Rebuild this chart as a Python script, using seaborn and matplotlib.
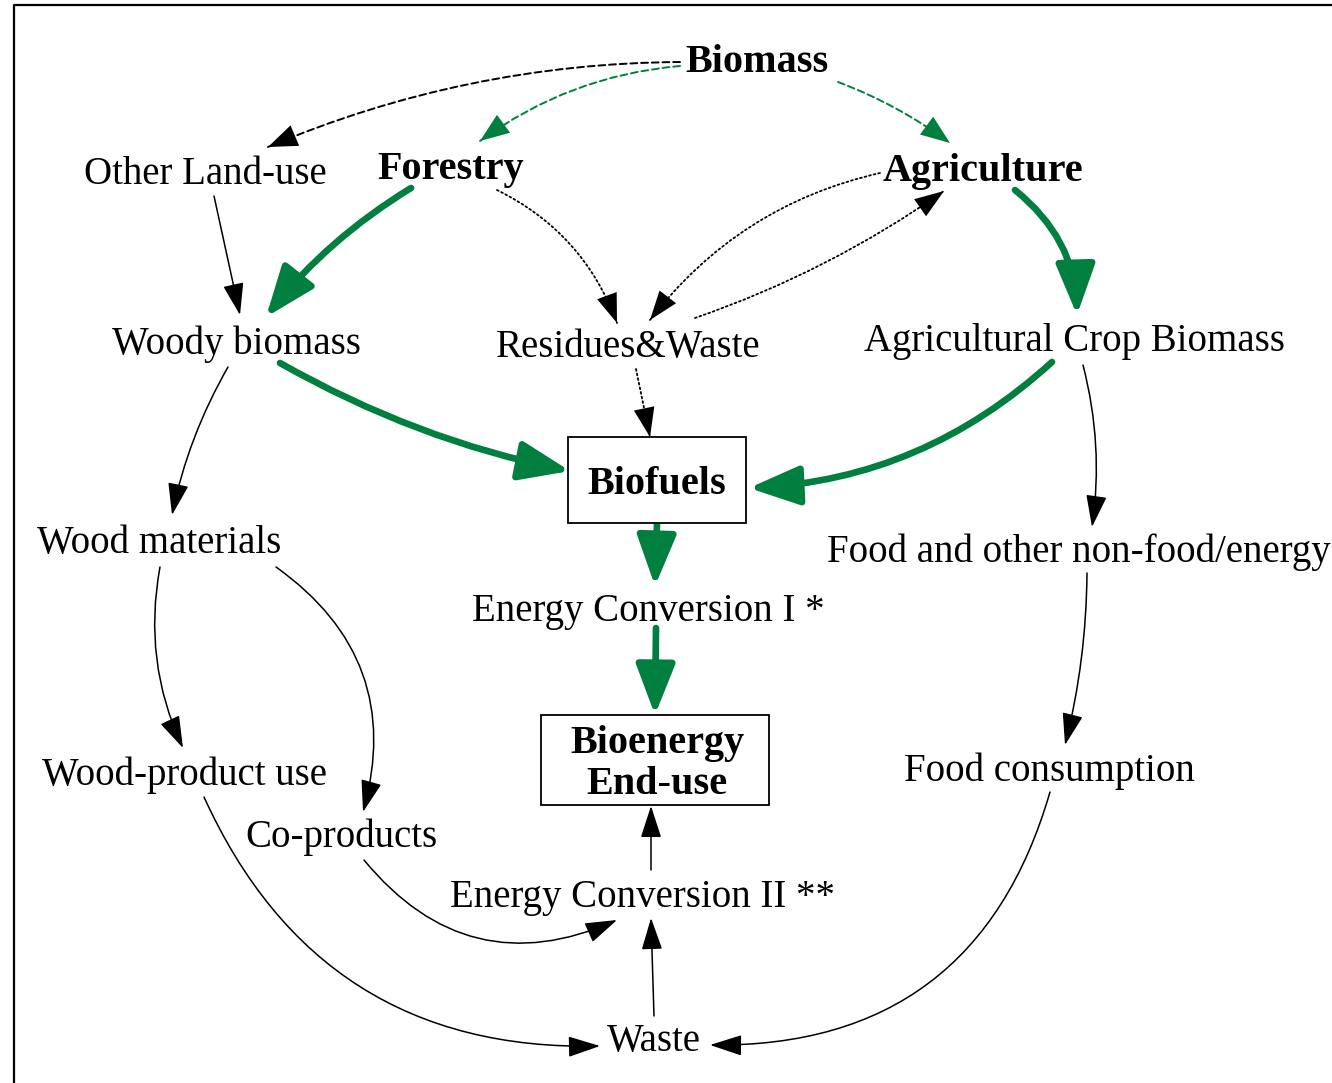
import matplotlib
matplotlib.use("Agg")
import matplotlib.pyplot as plt
import seaborn as sns
from matplotlib.patches import FancyArrowPatch, Rectangle

sns.set_theme(style="white")
plt.rcParams['font.family'] = ['Liberation Serif', 'DejaVu Serif']
plt.rcParams['text.color'] = 'black'

GREEN = "#007F3F"

# node labels and their centres (image pixels, y down)
node_names = ["Biomass", "Other Land-use", "Forestry", "Agriculture", "Woody biomass",
              "Residues&Waste", "Agricultural Crop Biomass", "Biofuels", "Wood materials",
              "Food and other non-food/energy", "Energy Conversion I *", "Bioenergy\nEnd-use",
              "Wood-product use", "Food consumption", "Co-products",
              "Energy Conversion II **", "Waste"]
node_x = [757, 205, 451, 983, 236, 628, 1074, 657, 159, 1079, 648, 657, 184, 1049, 341, 643, 654]
node_y = [63, 175, 169, 171, 344, 348, 342, 485, 544, 552, 611, 764, 775, 771, 837, 897, 1042]
node_bold = ["Biomass", "Forestry", "Agriculture", "Biofuels", "Bioenergy\nEnd-use"]

# boxed nodes: (left, top, right, bottom)
boxes = {"Biofuels": (568, 437, 746, 523), "Bioenergy\nEnd-use": (541, 715, 769, 805)}

# edges: start point, end point, bend (arc3 rad), style
edge_start = [(680, 62), (680, 66), (838, 82), (411, 188), (214, 196), (497, 190),
              (880, 173), (695, 318), (1015, 190), (280, 363), (636, 369), (1052, 362),
              (228, 367), (1083, 365), (657, 523), (656, 628), (160, 567), (276, 567),
              (1087, 573), (651, 870), (364, 860), (654, 1016), (204, 797), (1050, 792)]
edge_end = [(268, 147), (480, 141), (950, 143), (266, 317), (240, 315), (617, 323),
            (650, 320), (944, 191), (1077, 315), (570, 471), (650, 437), (749, 488),
            (172, 515), (1092, 527), (655, 586), (655, 715), (183, 748), (363, 812),
            (1065, 745), (651, 806), (617, 920), (651, 918), (600, 1046), (710, 1045)]
edge_rad = [0.10, 0.14, -0.07, 0.09, 0.0, -0.2, 0.18, 0.07, -0.23, 0.08, 0.0, -0.18,
            0.08, -0.1, 0.0, 0.0, 0.16, -0.35, -0.06, 0.0, 0.38, 0.0, 0.33, -0.38]
edge_kind = ["dash_k", "dash_g", "dash_g", "green", "solid", "dot", "dot", "dot", "green",
             "green", "dot", "green", "solid", "solid", "green", "green", "solid", "solid",
             "solid", "solid", "solid", "solid", "solid", "solid"]

styles = {
    "solid":  dict(color="black", lw=1.1, ls="-", hl=20, hw=6.5),
    "dot":    dict(color="black", lw=1.3, ls=(0, (1, 1.6)), hl=21, hw=7.5),
    "dash_k": dict(color="black", lw=1.4, ls=(0, (3.5, 2)), hl=21, hw=8),
    "dash_g": dict(color=GREEN, lw=1.4, ls=(0, (3.5, 2)), hl=21, hw=8),
    "green":  dict(color=GREEN, lw=4.8, ls="-", hl=31, hw=12),
}

W, H = 1332, 1083
fig = plt.figure(figsize=(W / 100, H / 100), dpi=100)
ax = fig.add_axes([0, 0, 1, 1])
ax.set_xlim(0, W)
ax.set_ylim(H, 0)
ax.axis("off")

# outer frame (top and left edges visible)
ax.plot([14, 14, W], [H, 5, 5], color="black", lw=1.6, solid_capstyle="butt")

for s, e, r, k in zip(edge_start, edge_end, edge_rad, edge_kind):
    st = styles[k]
    conn = f"arc3,rad={r}"
    head = f"-|>,head_length={st['hl']},head_width={st['hw']}"
    if st["ls"] == "-":
        ax.add_patch(FancyArrowPatch(s, e, connectionstyle=conn, arrowstyle=head,
                                     mutation_scale=1, color=st["color"], lw=st["lw"],
                                     shrinkA=0, shrinkB=0, capstyle="round"))
    else:
        # broken shaft, then a filled head with no stroke (so the shaft stays broken)
        ax.add_patch(FancyArrowPatch(s, e, connectionstyle=conn, arrowstyle="-",
                                     mutation_scale=1, color=st["color"], lw=st["lw"],
                                     linestyle=st["ls"], shrinkA=0, shrinkB=0))
        ax.add_patch(FancyArrowPatch(s, e, connectionstyle=conn, arrowstyle=head,
                                     mutation_scale=1, facecolor=st["color"],
                                     edgecolor="none", lw=0, shrinkA=0, shrinkB=0))

for name, (l, t, r, b) in boxes.items():
    ax.add_patch(Rectangle((l, t), r - l, b - t, fill=True, facecolor="white",
                           edgecolor="black", lw=1.3, zorder=3))

for name, x, y in zip(node_names, node_x, node_y):
    bold = name in node_bold
    ax.text(x, y, name, ha="center", va="center", fontsize=29 if bold else 28,
            fontweight="bold" if bold else "normal", linespacing=1.15, zorder=4,
            color="black")

fig.savefig("out.png", dpi=100)
